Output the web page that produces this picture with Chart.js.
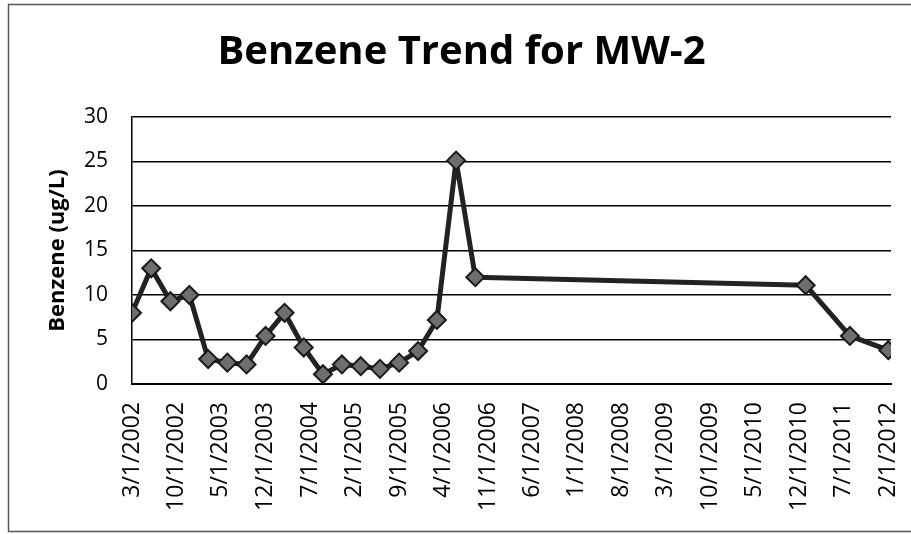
<!DOCTYPE html>
<html>
<head>
<meta charset="utf-8">
<script src="https://cdn.jsdelivr.net/npm/chart.js@4.4.1/dist/chart.umd.min.js"></script>
<style>
  html, body { margin: 0; padding: 0; background: #fff; }
  canvas { display: block; }
</style>
</head>
<body>
<canvas id="chart" width="911" height="534"></canvas>
<script>
// sample dates and benzene results
const sampleDates = [
    "3/1/2002", "6/1/2002", "9/1/2002", "12/1/2002",
    "3/1/2003", "6/1/2003", "9/1/2003", "12/1/2003",
    "3/1/2004", "6/1/2004", "9/1/2004", "12/1/2004",
    "3/1/2005", "6/1/2005", "9/1/2005", "12/1/2005",
    "3/1/2006", "6/1/2006", "9/1/2006",
    "1/1/2011", "8/1/2011", "2/1/2012"
];
const benzene = [
    8.0, 13.0, 9.3, 10.0,
    2.8, 2.4, 2.2, 5.4,
    8.0, 4.1, 1.1, 2.2,
    2.0, 1.7, 2.4, 3.7,
    7.2, 25.1, 12.0,
    11.1, 5.4, 3.8
];
const tickLabels = [
    "3/1/2002", "10/1/2002", "5/1/2003", "12/1/2003", "7/1/2004", "2/1/2005",
    "9/1/2005", "4/1/2006", "11/1/2006", "6/1/2007", "1/1/2008", "8/1/2008",
    "3/1/2009", "10/1/2009", "5/1/2010", "12/1/2010", "7/1/2011", "2/1/2012"
];
const axisStart = "3/1/2002";
const axisEnd = "2/14/2012";

function toDays(s) {
    const [m, d, y] = s.split("/").map(Number);
    return Date.UTC(y, m - 1, d) / 86400000;
}

const points = sampleDates.map((d, i) => ({ x: toDays(d), y: benzene[i] }));

const framePlugin = {
    id: "frame",
    beforeDraw(chart) {
        const ctx = chart.ctx;
        ctx.save();
        ctx.fillStyle = "#fff";
        ctx.fillRect(0, 0, chart.width, chart.height);
        ctx.strokeStyle = "#555";
        ctx.lineWidth = 1.5;
        ctx.beginPath();
        ctx.moveTo(920, 4.5);
        ctx.lineTo(8.5, 4.5);
        ctx.lineTo(8.5, 531.5);
        ctx.lineTo(920, 531.5);
        ctx.stroke();
        ctx.restore();
    }
};

new Chart(document.getElementById("chart"), {
    type: "line",
    data: {
        datasets: [{
            data: points,
            borderColor: "#222",
            borderWidth: 5,
            borderJoinStyle: "round",
            pointStyle: "rectRot",
            pointRadius: 9,
            pointBackgroundColor: "#6e6e6e",
            pointBorderColor: "#1a1a1a",
            pointBorderWidth: 2,
            tension: 0
        }]
    },
    options: {
        responsive: false,
        animation: false,
        devicePixelRatio: 1,
        layout: { padding: { left: 12, right: 0, top: 0, bottom: 0 } },
        plugins: {
            legend: { display: false },
            tooltip: { enabled: false },
            title: {
                display: true,
                text: "Benzene Trend for MW-2",
                color: "#000",
                font: { family: "Open Sans", size: 40, weight: "bold" },
                padding: { top: 29, bottom: 40 }
            }
        },
        scales: {
            x: {
                type: "linear",
                min: toDays(axisStart),
                max: toDays(axisEnd),
                afterBuildTicks(scale) {
                    scale.ticks = tickLabels.map(t => ({ value: toDays(t) }));
                },
                afterFit(scale) {
                    scale.height = 150;
                    scale.paddingRight = 20;
                },
                grid: { display: false, drawTicks: false },
                border: { display: true, color: "#000", width: 2 },
                ticks: {
                    autoSkip: false,
                    minRotation: 90,
                    maxRotation: 90,
                    padding: 18,
                    color: "#000",
                    font: { family: "Open Sans", size: 23 },
                    callback: (v, i) => tickLabels[i]
                }
            },
            y: {
                min: 0,
                max: 30,
                afterFit(scale) { scale.width = 120; },
                grid: { color: "#000", lineWidth: 1.5, drawTicks: false },
                border: { display: true, color: "#000", width: 1.5 },
                ticks: {
                    stepSize: 5,
                    padding: 24,
                    color: "#000",
                    font: { family: "Open Sans", size: 21 }
                },
                title: {
                    display: true,
                    text: "Benzene (ug/L)",
                    color: "#000",
                    font: { family: "Open Sans", size: 22, weight: "bold" },
                    padding: { top: 33, bottom: 0 }
                }
            }
        }
    },
    plugins: [framePlugin]
});
</script>
</body>
</html>
